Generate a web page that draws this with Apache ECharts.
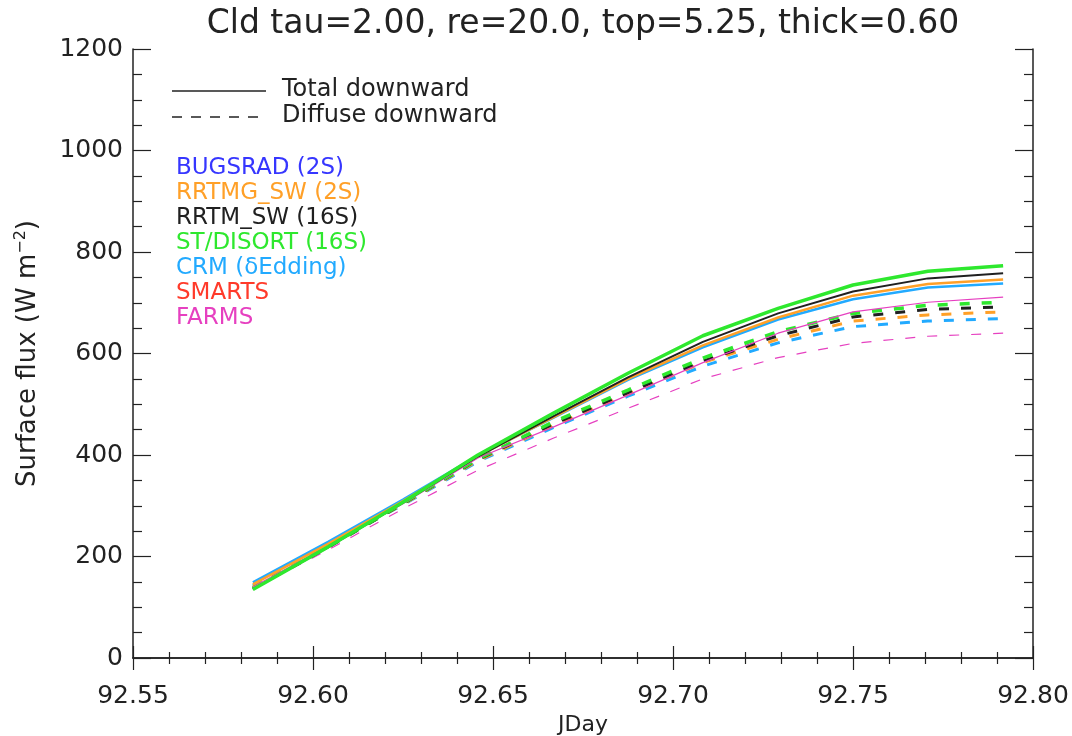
<!DOCTYPE html>
<html>
<head>
<meta charset="utf-8">
<script src="https://cdn.jsdelivr.net/npm/echarts@6/dist/echarts.min.js"></script>
<style>
  html, body { margin: 0; padding: 0; background: #fff; }
  #chart { width: 1072px; height: 736px; }
</style>
</head>
<body>
<div id="chart"></div>
<script>
// -------------------- data --------------------
const jday = [92.5833, 92.6042, 92.625, 92.6458, 92.6667, 92.6875, 92.7083, 92.7292, 92.75, 92.7708, 92.7917]

// total downward
const stTotal    = [135, 219, 307, 400, 482, 561, 635, 689, 735, 762, 773]
const rrtmTotal  = [135, 218, 306, 397, 476, 553, 623, 679, 722, 748, 758]
const rrtmgTotal = [145, 225, 309, 398, 474, 550, 616, 671, 714, 737, 746]
const crmTotal   = [149, 229, 312, 399, 473, 548, 612, 667, 707, 730, 738]
const farmsTotal = [140, 221, 304, 394, 455, 518, 582, 640, 682, 701, 711]

// diffuse downward
const stDiff    = [138, 219, 305, 392, 465, 528, 591, 643, 679, 695, 701]
const rrtmDiff  = [137, 218, 304, 391, 461, 523, 585, 635, 672, 687, 692]
const rrtmgDiff = [140, 220, 303, 389, 458, 520, 582, 628, 664, 676, 682]
const crmDiff   = [142, 221, 302, 387, 454, 516, 575, 621, 653, 664, 669]
const farmsDiff = [137, 213, 294, 370, 433, 492, 550, 592, 620, 634, 640]

const modelNames  = ['BUGSRAD (2S)', 'RRTMG_SW (2S)', 'RRTM_SW (16S)', 'ST/DISORT (16S)', 'CRM (δEdding)', 'SMARTS', 'FARMS']
const modelColors = ['#3636ff', '#ffa028', '#202020', '#2ee82e', '#22aaff', '#ff3a2a', '#e640c0']

const FONT = 'DejaVu Sans'

function pairs(vals) {
  return vals.map((v, i) => [jday[i], v])
}

function mkLine(vals, color, width, dashed) {
  return {
    type: 'line',
    data: pairs(vals),
    symbol: 'none',
    silent: true,
    lineStyle: {
      color: color,
      width: width,
      type: dashed ? [10, 12] : 'solid'
    }
  }
}

// -------------------- chart --------------------
const chart = echarts.init(document.getElementById('chart'), null, { renderer: 'canvas' })

const axisLine = { show: true, lineStyle: { color: '#222', width: 1.5 } }

const legendGraphics = [
  { type: 'line', shape: { x1: 172, y1: 91, x2: 266, y2: 91 }, style: { stroke: '#222', lineWidth: 1.5 } },
  { type: 'line', shape: { x1: 172, y1: 117, x2: 266, y2: 117 }, style: { stroke: '#222', lineWidth: 1.5, lineDash: [10, 9] } },
  { type: 'text', left: 282, top: 78, style: { text: 'Total downward', fill: '#222', font: '24px "' + FONT + '"' } },
  { type: 'text', left: 282, top: 104, style: { text: 'Diffuse downward', fill: '#222', font: '24px "' + FONT + '"' } },
  // title, centred over the plot area
  {
    type: 'text', x: 583, y: 8,
    style: {
      text: 'Cld tau=2.00, re=20.0, top=5.25, thick=0.60',
      fill: '#222', font: '33px "' + FONT + '"', textAlign: 'center', textVerticalAlign: 'top'
    }
  }
]
modelNames.forEach((name, i) => {
  legendGraphics.push({
    type: 'text',
    left: 176,
    top: 157 + i * 25,
    style: { text: name, fill: modelColors[i], font: '23px "' + FONT + '"' }
  })
})

const option = {
  animation: false,
  backgroundColor: '#fff',
  grid: { left: 133, right: 39, top: 49, bottom: 78, outerBoundsMode: 'none', containLabel: false },
  xAxis: [
    {
      type: 'value',
      min: 92.55,
      max: 92.80,
      interval: 0.05,
      name: 'JDay',
      nameLocation: 'middle',
      nameGap: 45,
      nameTextStyle: { fontFamily: FONT, fontSize: 22, color: '#222' },
      axisLine: axisLine,
      axisTick: { inside: true, length: 12, lineStyle: { color: '#222', width: 1.2 } },
      minorTick: { show: true, splitNumber: 5, length: 6, lineStyle: { color: '#222', width: 1.2 } },
      splitLine: { show: false },
      axisLabel: {
        margin: 26,
        fontFamily: FONT,
        fontSize: 25,
        color: '#222',
        formatter: v => v.toFixed(2)
      }
    },
    {
      type: 'value',
      position: 'top',
      min: 92.55,
      max: 92.80,
      interval: 0.05,
      axisLine: axisLine,
      axisTick: { inside: true, length: 12, lineStyle: { color: '#222', width: 1.2 } },
      minorTick: { show: true, splitNumber: 5, length: 6, lineStyle: { color: '#222', width: 1.2 } },
      splitLine: { show: false },
      axisLabel: { show: false }
    }
  ],
  yAxis: [
    {
      type: 'value',
      min: 0,
      max: 1200,
      interval: 200,
      name: 'Surface flux (W m{sup|−2})',
      nameLocation: 'middle',
      nameRotate: 90,
      nameGap: 90,
      nameTextStyle: {
        fontFamily: FONT, fontSize: 26, color: '#222',
        rich: { sup: { fontFamily: FONT, fontSize: 16, color: '#222', verticalAlign: 'top', padding: [0, 0, 14, 0] } }
      },
      axisLine: axisLine,
      axisTick: { inside: true, length: 18, lineStyle: { color: '#222', width: 1.2 } },
      minorTick: { show: true, splitNumber: 4, length: 9, lineStyle: { color: '#222', width: 1.2 } },
      splitLine: { show: false },
      axisLabel: { margin: 10, fontFamily: FONT, fontSize: 25, color: '#222', formatter: v => String(v) }
    },
    {
      type: 'value',
      position: 'right',
      min: 0,
      max: 1200,
      interval: 200,
      axisLine: axisLine,
      axisTick: { inside: true, length: 18, lineStyle: { color: '#222', width: 1.2 } },
      minorTick: { show: true, splitNumber: 4, length: 9, lineStyle: { color: '#222', width: 1.2 } },
      splitLine: { show: false },
      axisLabel: { show: false }
    }
  ],
  graphic: legendGraphics,
  series: [
    // diffuse downward (dashed)
    mkLine(farmsDiff, modelColors[6], 1.2, true),
    mkLine(crmDiff, modelColors[4], 3, true),
    mkLine(rrtmgDiff, modelColors[1], 3, true),
    mkLine(rrtmDiff, modelColors[2], 3, true),
    mkLine(stDiff, modelColors[3], 3.5, true),
    // total downward (solid)
    mkLine(farmsTotal, modelColors[6], 1.2, false),
    mkLine(crmTotal, modelColors[4], 2.5, false),
    mkLine(rrtmgTotal, modelColors[1], 2.5, false),
    mkLine(rrtmTotal, modelColors[2], 2, false),
    mkLine(stTotal, modelColors[3], 3.5, false)
  ]
}

chart.setOption(option)
</script>
</body>
</html>
